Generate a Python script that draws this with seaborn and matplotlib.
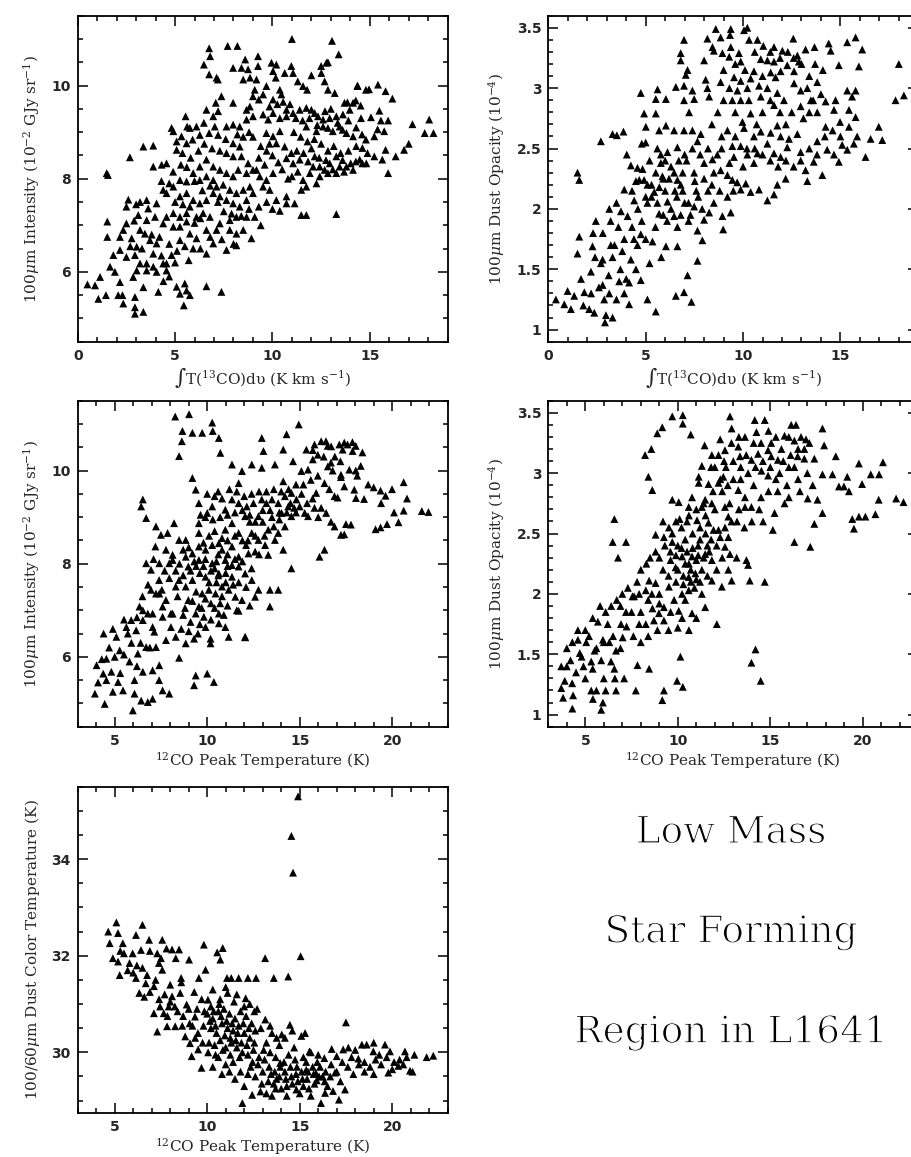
import numpy as np
import pandas as pd
import matplotlib
matplotlib.use("Agg")
import matplotlib.pyplot as plt
import matplotlib.patheffects as pe
from matplotlib.ticker import MultipleLocator, FuncFormatter
import seaborn as sns

# 13CO integrated intensity vs 100um intensity (10^-2 GJy/sr)
co13_vs_i100 = [
    (11.0,11.0),(13.06,10.96),(13.4,10.67),(12.77,10.49),(12.51,10.27),(12.85,10.5),(12.5,10.42),
    (6.75,10.8),(6.8,10.63),(6.48,10.45),(6.75,10.24),(7.13,10.17),(7.2,10.13),
    (7.7,10.85),(8.2,10.85),(7.98,10.38),(8.6,10.56),(8.41,10.38),(8.75,10.35),(8.5,10.13),(8.85,10.17),
    (9.26,10.63),(9.26,10.42),(9.18,10.13),(9.09,9.91),(9.95,10.49),(10.2,10.45),(10.03,10.31),(10.17,10.17),
    (10.63,10.27),(10.97,10.42),(11.06,10.27),(12.0,10.22),(11.3,10.09),(11.57,9.99),(11.78,9.91),
    (12.68,10.09),(12.85,9.91),(13.2,9.84),(14.38,9.99),(14.8,9.91),
    (9.69,9.99),(9.52,9.81),(10.38,9.91),(10.46,9.81),(10.03,9.7),(9.0,9.77),(9.3,9.7),(8.84,9.55),
    (7.38,9.77),(7.09,9.63),(6.61,9.48),(7.21,9.45),(7.98,9.63),(8.67,9.48),
    (5.54,9.34),(5.62,9.12),(5.76,9.09),(6.1,9.12),(4.82,9.09),(4.91,9.02),(6.48,9.2),(6.96,9.34),
    (7.64,9.12),(7.04,9.12),(6.75,8.98),(7.21,8.94),(6.27,8.94),(5.9,8.84),(5.33,8.91),(5.08,8.8),
    (5.59,8.76),(5.08,8.62),(5.38,8.55),
    (7.98,9.16),(8.32,9.12),(8.67,9.27),(9.0,9.34),(9.52,9.38),(9.78,9.27),(10.03,9.41),(10.38,9.3),
    (10.72,9.48),(10.72,9.34),(11.06,9.41),(11.4,9.48),(11.74,9.52),(12.0,9.48),(12.17,9.41),(12.34,9.34),
    (12.6,9.27),(12.94,9.3),(13.28,9.34),(13.62,9.38),(13.97,9.48),(14.14,9.63),(13.7,9.63),
    (11.74,9.12),(12.26,9.02),(12.6,9.12),(12.85,9.09),(13.1,9.02),(13.45,9.12),(13.8,8.98),(14.14,8.91),
    (14.8,8.84),(9.69,8.98),(10.03,8.91),(10.38,9.02),(10.2,8.76),(10.63,8.69),(10.97,8.55),(10.72,8.44),
    (11.06,8.33),(11.4,8.41),(11.83,8.37),(12.17,8.48),(12.09,8.26),(12.43,8.26),(12.68,8.19),(12.94,8.33),
    (13.28,8.48),(13.45,8.26),(13.8,8.26),(14.14,8.19),(14.48,8.41),(14.82,8.33),(12.85,8.12),(13.28,8.12),
    (12.43,8.05),(11.92,8.12),(11.57,7.97),(11.74,7.83),(12.26,7.9),(11.48,7.76),
    (10.03,8.12),(9.69,7.97),(9.35,8.05),(9.18,8.19),(9.52,7.83),(9.86,7.76),(10.2,7.54),(10.72,7.62),
    (10.72,7.47),(11.14,7.47),(11.48,7.22),(13.28,7.24),(10.38,7.31),
    (7.98,8.76),(8.32,8.69),(7.64,8.55),(7.98,8.48),(8.41,8.48),(8.75,8.33),(9.0,8.19),(8.67,8.12),
    (8.24,8.19),(7.98,8.05),(7.64,8.12),(7.3,8.19),(6.96,8.26),(6.61,8.41),(6.27,8.26),(5.93,8.12),
    (6.27,7.97),(6.61,8.05),(6.96,7.97),(7.13,7.83),(7.47,7.87),(7.81,7.76),(8.15,7.69),(8.5,7.76),
    (8.84,7.83),(9.0,7.69),(8.67,7.54),(8.32,7.4),(7.98,7.47),(7.64,7.54),(7.3,7.62),(6.96,7.69),
    (6.61,7.54),(6.27,7.47),(5.93,7.54),(5.59,7.69),(5.25,7.62),(4.91,7.83),(5.25,7.97),(5.59,7.94),
    (4.56,7.69),(4.31,8.3),(3.88,8.26),(4.56,8.33),(3.37,8.69),(3.88,8.71),(2.68,8.46),(1.49,8.12),
    (1.55,8.08),
    (5.76,7.4),(5.59,7.26),(5.25,7.18),(4.91,7.26),(4.56,7.18),(4.39,7.04),(4.91,6.97),(5.25,6.97),
    (5.59,7.08),(6.1,7.18),(6.44,7.26),(6.79,7.18),(6.61,6.9),(7.13,6.9),(7.3,7.04),(7.81,7.11),
    (8.15,7.18),(7.81,6.9),(8.15,6.82),(8.67,7.18),(9.09,7.18),(8.92,6.72),(8.15,6.57),(7.64,6.47),
    (6.96,6.61),(6.61,6.39),(6.1,6.72),(5.76,6.82),(5.93,6.5),(5.25,6.68),(4.82,6.36),(4.56,6.18),
    (4.39,7.76),(4.05,7.47),(3.54,7.54),(3.2,7.5),(3.62,7.36),(3.11,7.22),(3.54,7.11),(3.97,7.18),
    (2.5,7.4),(2.5,7.04),(2.34,6.9),(2.17,6.75),(1.52,6.75),(1.52,7.08),(2.77,6.72),(3.2,6.9),
    (3.45,6.82),(3.71,6.68),(4.05,6.61),(3.88,6.39),(3.03,6.54),(2.94,6.36),(3.2,6.18),(3.54,6.18),
    (3.88,6.11),(3.54,6.03),(4.05,6.0),(4.56,6.03),(3.03,6.03),(2.85,5.89),(2.5,6.32),(2.17,6.47),
    (1.83,6.36),(1.66,6.11),(1.91,6.0),(2.17,5.78),(2.08,5.5),(2.34,5.32),(2.94,5.46),(2.94,5.24),
    (2.94,5.1),(3.37,5.14),(3.37,5.67),(4.14,5.57),(1.15,5.89),(0.5,5.73),(0.89,5.71),(1.06,5.42),
    (1.45,5.5),(2.3,5.5),(5.08,5.68),(5.25,5.53),(5.5,5.75),(5.59,5.6),(5.76,5.5),(5.45,5.28),
    (6.61,5.69),(7.38,5.57),(4.39,6.18),
    (14.36,10.0),(14.96,9.92),(15.42,10.02),(15.81,9.88),(16.16,9.72),(14.28,9.68),(13.85,9.64),
    (14.53,9.57),(15.49,9.46),(15.06,9.32),(15.57,9.25),(15.94,9.25),(17.19,9.17),(18.05,9.27),
    (17.82,8.98),(18.27,8.98),(17.0,8.75),(16.76,8.62),(16.33,8.48),(15.81,8.62),(15.64,8.41),
    (15.94,8.12),(15.23,8.48),(14.88,8.55),(14.62,8.66),(14.62,8.33),(14.28,8.37),(14.02,8.33),
    (13.68,8.15),(15.23,8.91),(15.4,9.06),(15.74,9.02),(11.74,7.22),
    (9.85,9.55),(10.25,9.6),(10.55,9.65),(10.9,9.6),(11.2,9.3),(11.55,9.25),(11.9,9.3),(12.3,9.15),
    (12.7,9.45),(13.0,9.5),(13.35,9.2),(13.6,9.05),(13.9,9.25),(14.3,9.1),(14.55,9.3),(11.1,9.0),
    (11.45,8.9),(11.8,8.8),(12.15,8.85),(12.5,8.75),(12.85,8.6),(13.15,8.7),(13.5,8.55),(13.9,8.6),
    (14.3,8.7),(14.6,8.95),(11.25,8.6),(11.6,8.55),(12.0,8.65),(12.4,8.45),(12.75,8.4),(13.1,8.2),
    (13.6,8.4),(11.0,8.05),(11.3,8.15),(10.5,8.2),(10.8,8.0),(10.3,8.35),(10.0,8.5),(9.7,8.6),
    (9.4,8.7),(9.85,8.75),(9.3,8.45),(9.6,8.3),(9.0,8.9),(8.8,9.0),(8.5,8.9),(8.2,8.95),(7.6,8.85),
    (7.3,8.6),(6.9,8.65),(6.5,8.75),(6.2,8.6),(5.8,8.45),(5.6,8.25),(6.0,7.95),(6.4,7.75),(6.8,7.85),
    (7.2,7.5),(7.5,7.3),(7.9,7.25),(8.4,7.2),(8.8,7.35),(9.3,7.4),(9.7,7.5),(10.0,7.35),(6.3,7.15),
    (6.0,7.05),(5.4,7.45),(5.0,7.5),(4.7,7.9),(4.3,7.95),(4.9,8.15),(5.3,8.3),(8.0,6.6),(7.4,6.7),
    (6.8,6.75),(6.3,6.5),(5.5,6.55),(5.1,6.45),(4.7,6.6),(4.2,6.75),(4.3,6.35),(3.8,6.8),(3.3,6.5),
    (2.7,6.55),(2.9,7.1),(2.6,7.55),(3.0,7.45),(4.7,5.9),(4.4,5.8),(5.0,6.2),(5.7,6.25),(8.5,6.9),(9.4,7.0),
]

# 13CO integrated intensity vs 100um dust opacity (10^-4)
co13_vs_tau = [
    (8.6,3.49),(9.37,3.49),(9.33,3.44),(10.05,3.48),(10.22,3.5),(8.17,3.41),(8.85,3.42),(6.97,3.4),
    (8.43,3.34),(8.5,3.31),(8.94,3.29),(9.37,3.34),(9.29,3.26),(9.79,3.29),(9.88,3.22),(10.31,3.4),
    (10.74,3.4),(11.04,3.35),(11.59,3.34),(12.02,3.31),(12.58,3.41),(12.79,3.27),(13.21,3.32),(13.67,3.34),
    (14.4,3.37),(14.5,3.31),(15.35,3.38),(15.78,3.42),(16.12,3.32),(18.0,3.2),(18.26,2.94),(17.83,2.9),
    (6.8,3.29),(6.8,3.23),(8.0,3.23),(7.15,3.15),(7.06,3.11),(8.08,3.07),(8.17,3.0),(8.85,3.05),
    (8.26,2.93),(6.97,3.02),(6.55,3.01),(7.4,2.98),(7.49,2.91),(6.97,2.9),(7.23,2.8),(6.46,2.65),
    (6.97,2.65),(7.4,2.65),(7.83,2.62),(7.66,2.56),
    (4.75,2.96),(5.61,2.99),(5.52,2.91),(6.04,2.91),(4.92,2.79),(5.52,2.79),(5.01,2.68),(5.69,2.65),
    (6.04,2.69),(3.3,2.62),(3.52,2.61),(3.86,2.64),(2.7,2.56),(4.03,2.45),(4.8,2.54),(4.24,2.36),
    (4.58,2.34),(4.84,2.33),(4.92,2.24),(4.5,2.23),(5.78,2.45),(6.12,2.47),(6.63,2.51),(5.78,2.38),
    (5.52,2.3),(5.86,2.27),(6.46,2.3),(6.63,2.24),(6.8,2.2),(7.49,2.3),(7.52,2.23),(8.0,2.38),
    (8.43,2.41),(8.68,2.45),(8.5,2.3),(8.85,2.32),(9.2,2.28),(9.45,2.24),(9.7,2.22),(10.14,2.21),
    (9.88,2.16),(10.39,2.14),(10.82,2.16),(11.25,2.07),(11.59,2.12),(11.76,2.2),(12.19,2.25),(13.21,2.32),
    (13.3,2.23),(14.07,2.28),(12.96,2.4),(13.63,2.39),
    (9.45,2.52),(9.53,2.43),(9.88,2.52),(10.22,2.45),(10.56,2.38),(10.74,2.46),(11.25,2.54),(11.59,2.46),
    (11.93,2.43),(12.27,2.51),(12.96,2.47),(13.81,2.56),(14.32,2.49),(14.67,2.45),(14.92,2.39),(15.09,2.53),
    (15.35,2.49),(15.69,2.54),(15.86,2.6),(16.29,2.43),(16.55,2.58),(17.15,2.57),(16.97,2.68),(15.44,2.68),
    (14.98,2.72),(15.44,2.82),(15.78,2.76),(14.67,2.82),(14.24,2.68),(13.81,2.8),(13.4,2.8),(12.96,2.85),
    (13.48,2.9),(14.24,2.89),(14.75,2.9),(15.35,2.98),(15.78,2.98),(15.6,2.93),(14.92,3.19),(15.95,3.18),
    (9.54,3.09),(9.88,3.06),(10.39,3.08),(10.22,3.0),(9.71,2.98),(9.45,2.9),(9.88,2.9),(10.39,2.79),
    (9.97,2.72),(10.91,2.64),(10.56,2.6),(10.05,2.67),(10.82,3.02),(11.25,3.0),(11.42,3.13),(11.67,3.09),
    (11.93,3.14),(12.27,3.19),(12.62,3.14),(12.87,3.22),(11.59,3.22),(11.25,3.23),(10.91,3.24),(10.56,3.14),
    (10.91,2.93),(11.76,2.96),(12.1,2.9),(12.96,2.98),(13.3,3.0),(13.81,3.05),(12.62,3.04),(11.59,2.86),
    (11.76,2.69),(11.42,2.63),(11.93,2.6),(12.36,2.58),(12.79,2.62),
    (1.5,2.3),(1.59,2.24),(1.59,1.77),(1.5,1.63),(2.44,1.9),(3.13,2.0),(3.73,1.98),(4.07,1.94),
    (3.9,2.16),(4.41,2.07),(4.67,2.24),(5.09,2.2),(5.44,2.14),(5.09,2.05),(5.69,1.96),(6.12,2.06),
    (6.46,1.94),(6.63,1.85),(7.49,2.02),(7.66,1.82),(8.0,1.91),(8.26,1.97),(8.94,1.94),(8.98,1.83),
    (9.37,1.97),(7.91,1.74),(7.15,1.45),(6.55,1.28),(6.97,1.31),(7.35,1.23),(7.66,1.57),(6.04,1.69),
    (6.63,1.69),(5.35,1.73),(4.75,1.79),(4.58,1.7),(4.24,1.58),(3.3,1.6),(3.21,1.7),(2.79,1.58),
    (2.27,1.69),(4.75,1.41),(4.15,1.39),(3.64,1.4),(3.13,1.3),(2.79,1.37),(2.87,1.25),(1.85,1.31),
    (1.33,1.28),(0.99,1.32),(0.39,1.25),(0.82,1.21),(1.16,1.17),(2.1,1.17),(2.36,1.14),(2.96,1.12),
    (2.91,1.06),(3.3,1.1),(4.15,1.21),(5.09,1.25),(5.52,1.15),(1.68,1.42),(2.19,1.48),
    (5.3,2.1),(5.6,2.05),(6.0,2.15),(6.3,2.0),(6.6,2.1),(6.9,2.15),(7.2,2.05),(7.7,2.1),(7.3,1.95),
    (6.1,1.9),(5.9,2.25),(6.9,2.3),(7.1,2.4),(8.2,2.15),(8.5,2.05),(7.9,2.0),(4.3,1.85),(4.8,1.9),
    (3.6,1.85),(3.4,1.7),(3.9,1.75),(2.7,1.55),(3.1,1.45),(2.4,1.6),(3.7,1.5),(4.0,1.42),
    (9.0,3.15),(9.6,3.2),(10.1,3.15),(10.6,3.3),(11.0,3.1),(11.4,3.3),(11.9,3.25),(12.3,3.3),(12.6,3.25),
    (13.0,3.2),(13.4,3.1),(13.7,3.2),(14.1,3.15),(14.0,2.95),(13.6,2.9),(13.1,2.75),(12.5,2.8),(12.2,2.7),
    (11.9,2.8),(11.4,2.9),(11.0,2.8),(10.7,2.7),(10.3,2.9),(9.6,2.8),(9.3,3.0),(9.0,2.9),(8.7,2.8),
    (8.4,2.7),(8.9,2.6),(9.2,2.65),(9.6,2.6),(10.2,2.5),(10.6,2.5),(11.0,2.45),(11.4,2.4),(11.8,2.35),
    (12.2,2.4),(12.6,2.35),(13.4,2.5),(13.8,2.45),(14.2,2.6),(14.6,2.65),(15.0,2.6),(10.0,2.35),(9.3,2.38),
    (8.9,2.5),(8.2,2.5),(7.8,2.45),(7.4,2.5),(7.0,2.45),(6.7,2.4),(6.3,2.35),(6.0,2.4),(5.6,2.5),(5.2,2.4),
    (5.0,2.55),(5.3,2.2),(5.7,2.18),(6.2,2.25),(6.5,2.15),(7.0,2.05),(7.6,2.15),(8.0,2.25),(8.4,2.2),
    (8.8,2.15),(9.2,2.1),(9.5,2.15),(5.0,2.1),(4.6,2.0),(4.3,2.15),(5.9,1.95),(6.8,1.95),(7.2,1.9),
    (5.5,1.85),(5.0,1.75),(4.4,1.75),(3.8,1.65),(3.5,2.05),(3.2,1.9),(2.8,1.8),(2.3,1.8),(2.6,1.35),
    (2.2,1.3),(1.8,1.2),(3.5,1.25),(3.9,1.3),(4.5,1.5),(5.2,1.55),(5.8,1.6),
]

# 12CO peak temperature vs 100um intensity (10^-2 GJy/sr)
co12_vs_i100 = [
    (8.27,11.16),(9.02,11.21),(8.66,10.85),(8.63,10.63),(8.48,10.31),(9.2,10.81),(9.73,10.81),(10.27,11.03),
    (10.3,10.85),(10.63,10.7),(10.71,10.38),(9.2,9.84),(9.38,9.59),(10.59,9.55),(11.34,10.13),(11.88,9.99),
    (12.41,10.13),(12.95,10.06),(11.7,9.73),(12.95,10.7),(13.04,10.42),(13.66,10.13),(14.29,10.78),(14.11,10.45),
    (14.64,10.2),(14.95,10.99),(14.11,9.77),(15.09,9.99),(15.45,10.02),(15.71,10.24),(15.36,10.45),(15.8,10.56),
    (16.16,10.63),(15.98,10.34),(16.52,10.09),(16.7,10.52),(17.14,10.56),(17.32,10.45),(17.59,10.56),(17.86,10.42),
    (17.68,10.02),(17.23,9.91),(17.41,9.66),(17.95,9.59),(18.04,9.41),(16.34,9.73),(16.88,9.45),(15.89,9.52),
    (16.16,9.2),(16.43,9.09),(16.88,8.8),(17.23,8.62),(17.77,8.84),(16.07,8.15),(15.45,9.02),
    (16.42,10.63),(15.71,10.44),(16.51,10.53),(17.41,10.6),(17.85,10.61),(18.03,10.53),(18.39,10.39),(18.03,10.0),
    (18.11,9.89),(19.0,9.64),(19.37,9.57),(19.99,9.6),(20.62,9.75),(19.64,9.46),(20.62,9.14),(20.34,8.89),
    (19.72,8.85),(19.37,8.78),(19.1,8.74),(21.6,9.13),(21.96,9.11),(17.5,8.85),(17.41,8.63),(16.34,8.3),
    (18.48,9.39),(17.05,9.42),(17.23,9.86),(16.78,10.0),(16.69,10.17),(15.98,9.89),(16.69,8.9),
    (9.55,9.3),(10.0,9.09),(10.27,9.23),(10.98,9.16),(11.34,9.38),(11.7,9.3),(12.14,9.23),(12.5,9.3),
    (12.95,9.38),(13.2,9.3),(13.5,9.38),(13.84,9.3),(14.2,9.45),(14.55,9.52),(14.82,9.38),(15.0,9.23),
    (15.27,9.09),(14.38,9.23),(14.02,9.09),(14.55,9.02),(14.2,8.8),(13.84,8.66),(13.66,8.51),(13.3,8.73),
    (12.77,9.02),(12.05,9.02),(11.34,8.87),(10.98,8.73),(11.7,8.66),(12.41,8.66),(12.77,8.51),(13.13,8.4),
    (14.11,8.3),(14.55,7.9),(13.3,8.19),(12.59,8.26),(12.23,8.22),(11.7,8.15),(11.34,8.37),(10.63,8.44),
    (10.27,8.4),(9.91,8.3),(9.55,8.37),(9.2,8.22),(8.84,8.15),(9.55,8.08),(10.27,8.01),(10.98,8.08),
    (11.34,7.97),(11.7,7.94),(12.05,7.79),(12.41,7.65),(12.77,7.44),(13.39,7.44),(13.84,7.44),(13.39,7.08),
    (12.59,7.29),(11.88,7.22),(11.52,7.29),(11.16,7.44),(10.8,7.51),(10.45,7.36),(10.09,7.44),(9.73,7.36),
    (9.55,7.08),(9.38,6.93),(9.82,6.86),(9.91,6.64),(10.63,6.72),(10.98,6.64),(12.05,6.43),(11.16,6.43),
    (10.63,6.93),(11.7,6.99),(11.34,7.72),(10.63,7.79),(9.91,7.72),(9.2,7.65),(8.98,7.94),(8.98,7.22),
    (8.84,7.51),(8.13,8.08),(7.95,8.01),(8.84,8.51),(9.55,8.66),(9.55,8.87),(9.64,9.05),
    (7.77,8.3),(7.23,8.8),(6.52,9.38),(6.43,9.23),(6.7,8.98),(7.5,8.62),(7.86,8.66),(8.21,8.87),
    (8.48,8.51),(7.41,8.01),(7.95,7.69),(8.48,7.65),(8.3,7.51),(7.55,7.44),(7.41,7.36),(7.77,7.22),
    (8.13,6.93),(8.04,6.64),(7.59,6.86),(8.3,6.43),(8.84,6.29),(9.29,6.39),(10.18,6.39),(10.18,6.29),
    (12.05,6.42),(8.48,5.98),(9.38,5.6),(9.29,5.39),(10.0,5.64),(10.36,5.46),
    (7.2,8.37),(6.7,8.01),(6.96,7.87),(6.96,7.44),(7.23,7.36),(6.34,7.08),(6.79,6.93),
    (3.93,5.21),(4.02,5.82),(4.38,5.64),(4.82,5.68),(4.55,5.5),(4.46,4.99),(4.55,5.96),(5.18,5.46),
    (5.09,6.43),(5.71,6.5),(6.16,6.57),(6.25,6.07),(6.52,5.68),(7.05,5.71),(7.41,5.82),(6.07,5.5),
    (6.07,5.21),(5.98,4.85),(6.43,5.06),(6.79,5.03),(7.05,5.1),(7.59,5.28),(7.95,5.21),(5.45,5.28),
    (6.7,6.21),(7.23,6.21),(7.05,6.64),(7.77,6.36),(6.52,6.79),(6.52,7.0),(7.05,6.93),(5.89,6.79),
    (5.63,6.64),(5.27,6.14),(7.59,7.08),(8.04,6.93),(7.14,6.54),(8.13,8.19),
    (9.9,8.1),(10.4,7.9),(10.6,8.2),(10.1,7.6),(10.5,7.6),(9.6,7.8),(9.4,7.4),(10.8,7.3),(11.0,7.8),
    (11.1,8.2),(10.2,7.15),(9.7,7.05),(10.9,6.9),(12.1,8.4),(12.6,8.6),(13.0,8.9),(13.5,9.0),(12.3,8.9),
    (11.9,8.5),(13.9,9.1),(14.5,9.3),(14.8,9.1),
    (9.8,8.45),(10.1,8.6),(10.4,8.7),(10.8,8.55),(11.1,8.5),(11.5,8.6),(10.5,8.05),(10.8,8.3),(11.1,7.95),
    (11.5,8.1),(11.9,8.05),(12.2,8.5),(12.4,7.9),(12.8,8.2),(13.1,8.6),(13.6,8.8),(13.9,8.95),(14.3,9.1),
    (14.7,9.2),(15.1,9.5),(15.4,9.3),(15.7,9.4),(15.2,9.7),(14.8,9.7),(14.4,9.6),(14.0,9.55),(13.6,9.6),
    (13.2,9.55),(12.8,9.55),(12.4,9.5),(12.0,9.45),(11.6,9.55),(11.2,9.6),(10.8,9.4),(10.4,9.45),(10.0,9.5),
    (9.9,9.0),(10.3,8.95),(10.7,9.0),(11.1,9.05),(11.5,9.1),(11.9,9.15),(12.3,9.05),(12.6,8.9),(13.0,9.15),
    (13.4,9.15),(9.3,8.05),(9.0,8.35),(8.7,8.3),(8.5,8.0),(8.3,7.85),(8.7,7.75),(9.1,7.85),(9.4,7.95),
    (9.8,7.95),(10.2,7.85),(10.6,7.75),(11.0,7.6),(11.4,7.55),(11.7,7.6),(12.1,7.5),(12.3,7.1),(11.6,7.0),
    (11.1,7.1),(10.4,7.05),(10.2,6.8),(9.6,6.7),(9.1,6.75),(8.7,6.9),(8.4,7.3),(8.8,7.05),(9.2,7.2),
    (9.9,7.25),(10.7,7.15),(9.0,6.55),(9.5,6.5),(8.6,6.6),(7.7,7.85),(7.4,7.65),(7.1,8.1),(6.8,7.55),
    (6.5,7.3),(6.2,6.85),(5.9,6.3),(5.5,6.05),(5.0,6.0),(4.7,6.2),(4.3,5.95),(4.1,5.45),(4.9,5.25),
    (5.3,5.65),(5.8,5.9),(6.4,6.3),(6.9,6.2),(5.5,6.8),(4.9,6.6),(4.4,6.5),(6.2,5.8),(7.4,5.5),
    (16.6,9.6),(17.2,10.2),(16.3,10.3),(15.6,9.8),(18.7,9.7),(19.4,9.3),(20.1,9.1),(20.8,9.4),(18.3,10.1),
    (16.9,10.3),(16.0,9.0),(15.8,9.2),
]

# 12CO peak temperature vs 100um dust opacity (10^-4)
co12_vs_tau = [
    (9.7,3.47),(10.27,3.48),(10.27,3.41),(9.16,3.38),(8.89,3.33),(10.7,3.32),(12.82,3.47),(12.91,3.37),
    (8.23,3.15),(8.57,3.2),(8.41,2.97),(8.62,2.86),(6.57,2.62),(6.48,2.43),(7.2,2.43),(6.77,2.3),
    (14.16,3.44),(14.7,3.44),(14.25,3.34),(13.63,3.3),(12.29,3.28),(11.45,3.23),(11.84,3.15),(12.55,3.19),
    (13.27,3.22),(13.36,3.14),(11.3,3.06),(11.13,2.97),(11.66,2.91),(12.2,2.92),(11.13,2.92),(12.46,2.97),
    (13.27,2.86),(13.63,2.8),(14.52,3.02),(14.88,2.98),(15.41,3.11),(15.05,3.14),(14.88,3.19),(15.05,3.25),
    (14.34,3.16),(13.98,3.11),(16.13,3.4),(16.39,3.4),(15.77,3.31),(16.3,3.27),(16.66,3.3),(16.93,3.28),
    (17.11,3.25),(17.82,3.37),(17.91,3.23),(16.84,3.2),(16.48,3.14),(16.84,3.12),(17.38,3.12),(17.82,2.99),
    (18.36,2.99),(18.54,3.14),(19.16,2.97),(19.79,3.08),(20.43,2.99),(20.88,2.99),(21.09,3.09),(19.96,2.91),
    (18.98,2.89),(18.71,2.89),(19.25,2.85),(17.29,2.9),(17.02,2.79),(17.55,2.78),(17.82,2.67),(17.38,2.58),
    (19.43,2.62),(19.79,2.64),(20.14,2.64),(20.68,2.66),(20.86,2.78),(21.8,2.79),(22.2,2.76),(19.52,2.54),
    (16.3,2.43),(17.16,2.39),(15.77,2.75),(15.23,2.67),(15.14,2.53),(14.61,2.6),(13.98,2.72),(13.63,2.72),
    (12.73,2.64),(12.55,2.55),(12.2,2.53),(12.55,2.72),(11.84,2.75),(11.48,2.78),(11.3,2.72),(10.77,2.8),
    (10.59,2.72),(10.05,2.76),(9.7,2.78),(11.04,2.61),(11.66,2.59),(11.93,2.53),(12.29,2.47),(12.73,2.47),
    (12.55,2.39),(12.82,2.33),(13.18,2.3),(13.71,2.28),(13.8,2.24),(13.89,2.11),(14.7,2.1),(12.73,2.2),
    (12.91,2.11),(11.84,2.28),(11.48,2.33),(10.77,2.31),(10.23,2.31),(9.7,2.43),(9.25,2.47),(8.8,2.49),
    (9.52,2.55),(9.61,2.28),(9.88,2.22),(10.59,2.14),(10.95,2.17),(11.84,2.11),(12.38,2.06),(11.3,2.0),
    (10.59,2.03),(10.23,2.0),(9.52,2.06),(8.8,2.09),(8.45,2.11),(8.27,2.03),(7.91,2.0),(7.55,1.98),
    (7.64,1.98),(8.63,1.88),(8.98,1.84),(9.25,1.89),(9.61,1.85),(10.05,1.86),(10.77,1.84),(11.48,1.89),
    (10.23,1.8),(9.25,1.78),(8.71,1.78),(8.27,1.75),(7.91,1.75),(7.23,1.73),(6.93,1.75),(6.21,1.75),
    (5.95,1.62),(7.02,1.64),(6.66,1.53),(5.68,1.77),(5.05,1.6),(4.7,1.51),(5.5,1.53),(5.32,1.44),
    (5.86,1.45),(6.39,1.44),(6.57,1.38),(3.89,1.28),(4.29,1.26),(4.34,1.16),(5.32,1.2),(5.41,1.13),
    (5.95,1.1),(6.66,1.2),(3.8,1.14),(4.3,1.05),(5.86,1.04),(7.73,1.2),(9.25,1.2),(9.96,1.28),
    (10.27,1.23),(9.16,1.12),(10.14,1.48),(7.82,1.41),(8.45,1.38),(12.11,1.75),(13.98,1.43),(14.2,1.54),
    (14.48,1.28),
    (10.0,2.4),(10.4,2.45),(10.8,2.5),(11.1,2.4),(10.6,2.25),(11.0,2.28),(11.3,2.2),(10.3,2.15),(10.9,2.05),
    (11.6,2.4),(10.5,2.6),(11.2,2.55),(9.9,2.6),(10.2,2.55),(11.5,2.65),(12.0,2.7),(12.4,2.85),(12.8,2.75),
    (13.2,2.6),(13.4,2.95),(12.0,3.05),(12.6,3.05),(13.0,3.1),(14.1,2.9),(14.5,2.8),(15.5,3.0),(16.0,3.05),
    (15.9,2.9),(16.5,2.95),(15.6,3.2),(16.0,3.3),(16.3,3.05),
    (4.5,1.35),(5.0,1.3),(4.8,1.48),(5.2,1.65),(6.0,1.3),(6.3,1.6),(6.6,1.3),(7.1,1.3),(6.1,1.2),(3.7,1.22),
    (4.0,1.4),(4.6,1.62),(5.6,1.2),(6.9,1.9),(7.2,1.85),(8.0,1.85),(8.4,1.95),(9.0,2.0),(7.5,1.85),(5.4,1.38),
    (9.6,2.35),(9.9,2.32),(10.2,2.38),(10.5,2.35),(10.8,2.38),(11.1,2.32),(11.4,2.3),(11.7,2.35),(10.0,2.2),
    (10.4,2.25),(10.7,2.2),(11.0,2.12),(11.2,2.45),(11.5,2.5),(11.8,2.45),(12.1,2.4),(12.4,2.3),(12.1,2.2),
    (11.6,2.15),(11.2,2.1),(10.7,2.1),(10.3,2.08),(9.9,2.1),(9.5,2.15),(9.2,2.2),(9.0,2.3),(9.3,2.4),
    (9.7,2.5),(10.1,2.62),(10.6,2.65),(11.0,2.7),(11.4,2.75),(11.9,2.85),(12.3,2.95),(12.7,2.9),(13.0,2.95),
    (13.4,3.05),(13.8,3.0),(14.2,3.05),(14.6,3.1),(15.0,3.05),(15.3,2.95),(15.7,3.1),(16.1,3.15),(16.5,3.2),
    (15.3,3.3),(14.9,3.35),(14.5,3.25),(14.1,3.25),(13.7,3.15),(13.3,3.3),(12.9,3.25),(12.5,3.1),(12.2,3.15),
    (11.8,3.05),(12.9,2.6),(13.3,2.7),(13.6,2.55),(14.0,2.6),(14.4,2.7),(14.9,2.85),(15.4,2.85),(16.0,2.8),
    (16.6,2.85),(17.0,3.0),(9.2,2.6),(8.8,2.35),(8.5,2.3),(8.3,2.25),(8.0,2.2),(7.8,2.1),(7.3,2.05),
    (7.0,2.0),(6.7,1.95),(6.4,1.9),(6.1,1.85),(5.8,1.9),(5.4,1.8),(5.0,1.7),(4.6,1.7),(4.3,1.6),(4.0,1.55),
    (3.7,1.4),(4.2,1.45),(4.9,1.4),(5.6,1.55),(6.0,1.6),(6.5,1.65),(6.9,1.55),(7.6,1.65),(8.0,1.6),
    (8.4,1.65),(8.9,1.7),(9.5,1.7),(10.0,1.72),(10.6,1.7),(11.0,1.8),(10.4,1.95),(9.8,1.95),(9.0,1.92),
    (8.6,2.0),
]

# 12CO peak temperature vs 100/60um dust color temperature (K)
co12_vs_tdust = [
    (14.91,35.3),(14.55,34.48),(14.64,33.72),(15.05,31.99),(14.38,31.57),(17.5,30.62),(13.13,31.95),(13.6,31.54),
    (12.64,31.54),(11.7,31.54),(11.3,31.54),(11.07,31.54),(12.2,31.54),(9.55,31.54),(9.91,31.71),(9.82,32.23),
    (10.54,32.07),(10.71,31.92),(10.84,32.16),(9.02,31.92),(8.48,32.13),(8.1,32.13),(7.57,32.33),(6.86,32.33),
    (6.5,32.64),(6.15,32.43),(6.42,32.12),(5.97,32.05),(5.8,31.85),(5.09,32.69),(4.65,32.5),(4.73,32.26),
    (5.18,32.47),(5.44,32.26),(5.18,31.88),(5.27,31.6),(6.15,31.54),(6.33,31.23),(6.68,31.43),(7.12,31.37),
    (7.21,31.5),(7.57,31.71),(7.39,31.85),(7.12,30.81),(7.3,30.43),(7.83,30.54),(8.27,30.54),(7.92,30.95),
    (7.65,30.81),(8.1,31.16),(8.54,31.23),(8.59,31.54),(8.89,30.99),(9.34,30.74),(8.81,30.33),(9.07,30.19),
    (9.16,29.92),(9.51,30.06),(9.69,29.68),(10.04,31.09),(11.1,31.23),(12.08,31.12),(13.14,30.68),(14.47,30.57),
    (15.09,30.34),(14.03,30.37),(13.94,29.78),(15.35,29.64),(15.88,29.57),(16.24,29.5),(15.53,30.02),(16.33,29.88),
    (17.0,29.92),(17.35,30.06),(18.36,30.16),(14.82,29.23),(12.88,29.19),(12.43,29.12),(11.9,28.95),(16.15,28.95),
    (17.12,29.02),
    (18.62,30.16),(19.61,30.16),(19.88,30.02),(20.69,30.02),(20.78,29.9),(20.96,29.62),(20.33,29.72),(19.79,29.58),
    (18.98,30.02),(18.17,29.87),(17.63,30.1),(16.91,29.58),(17.45,29.23),(16.37,29.16),(21.86,29.9),(22.22,29.93),
    (15.92,29.42),(16.73,30.07),(15.29,30.4),
    (5.5,32.05),(6.0,31.65),(6.5,31.75),(6.9,32.1),(7.3,32.05),(7.5,31.95),(7.8,32.15),(8.3,31.95),(8.6,31.45),
    (9.7,31.1),(10.2,30.95),
    (10.0,30.8),(10.3,30.7),(10.6,30.85),(10.9,30.9),(11.2,30.8),(11.5,30.7),(11.8,30.85),(12.1,30.75),(12.4,30.6),
    (10.2,30.5),(10.5,30.4),(10.8,30.6),(11.1,30.5),(11.4,30.45),(11.7,30.55),(12.0,30.4),(12.3,30.3),(12.6,30.45),
    (12.9,30.5),(13.2,30.2),(10.1,30.2),(10.4,30.15),(10.7,30.25),(11.0,30.1),(11.3,30.2),(11.6,30.1),(11.9,30.0),
    (12.2,29.95),(12.5,30.05),(12.8,29.9),(13.1,29.85),(13.4,30.0),(13.7,29.9),(10.6,29.9),(11.0,29.75),(11.4,29.8),
    (11.8,29.6),(12.2,29.55),(12.6,29.5),(13.0,29.6),(13.3,29.4),(13.6,29.35),(13.9,29.5),(14.2,29.6),(14.5,29.7),
    (14.8,29.55),(15.1,29.6),(15.4,29.45),(15.7,29.7),(14.3,29.3),(14.6,29.35),(14.9,29.4),(15.2,29.3),(15.5,29.25),
    (14.0,29.25),(13.7,29.25),(15.8,29.35),(16.1,29.7),(16.4,29.6),(16.7,29.75),(17.0,29.6),(17.3,29.8),(17.6,29.7),
    (17.9,29.55),(18.2,29.75),(18.5,29.8),(18.8,29.7),(19.1,29.85),(19.4,29.75),(19.7,29.9),(20.1,29.8),(20.4,29.85),
    (9.5,30.4),(9.8,30.55),(9.2,30.55),(8.7,30.75),(9.0,30.9),(8.4,30.85),(8.0,31.05),(7.7,31.2),(7.4,31.1),
    (6.9,31.25),(6.6,31.15),(10.3,31.3),(10.7,31.1),(11.6,31.2),(12.3,31.0),(12.7,30.9),(13.5,30.4),(13.9,30.15),
    (14.2,30.3),(14.7,30.1),(15.2,29.9),(15.6,30.0),(16.0,29.95),(14.4,29.95),(13.2,29.15),(15.0,29.15),(12.0,29.3),
    (11.5,29.45),(11.2,29.6),(10.8,29.55),(10.3,29.7),
    (10.15,30.65),(10.45,30.55),(10.75,30.75),(11.05,30.65),(11.35,30.6),(11.65,30.4),(11.95,30.6),(12.25,30.5),
    (12.55,30.2),(10.35,30.85),(10.65,31.0),(10.95,30.35),(11.25,30.3),(11.55,30.25),(11.85,30.2),(12.15,30.15),
    (12.45,29.8),(12.75,29.75),(13.05,30.05),(13.35,29.7),(13.65,29.6),(13.95,29.7),(14.25,29.45),(14.55,29.5),
    (14.85,29.7),(15.15,29.45),(15.45,29.6),(15.75,29.55),(16.05,29.5),(16.35,29.4),(16.65,29.5),(14.15,29.8),
    (14.75,29.85),(15.35,29.8),(15.95,29.8),(13.75,29.45),(13.45,29.55),(12.95,29.35),(12.35,29.7),(11.75,29.9),
    (11.25,29.95),(10.85,30.05),(10.45,29.95),(10.05,30.0),(9.75,30.2),(9.35,30.3),(9.05,30.6),(8.65,30.55),
    (8.25,30.95),(7.85,30.75),(7.45,30.95),(9.45,30.9),(9.85,30.85),(11.45,31.05),(12.0,30.95),(12.55,30.85),
    (11.0,31.35),(9.3,31.25),(8.0,31.4),(6.75,31.6),(6.2,31.8),(5.7,31.7),(5.3,32.1),(4.9,31.95),(13.4,30.55),
    (13.75,30.3),(14.6,30.45),(16.5,29.3),(17.2,29.4),(17.8,29.9),(18.5,29.6),(19.3,29.95),(20.0,29.65),
    (20.6,29.75),(21.1,29.6),(19.0,29.55),(16.8,29.2),(15.6,29.1),(14.3,29.1),(13.5,29.1),(18.0,30.05),
    (19.0,30.2),(21.2,29.95),
]

x_label_13co = "∫T($^{13}$CO)dυ (K km s$^{-1}$)"
x_label_12co = "$^{12}$CO Peak Temperature (K)"
y_label_i100 = "100$\\mu$m Intensity (10$^{-2}$ GJy sr$^{-1}$)"
y_label_tau = "100$\\mu$m Dust Opacity (10$^{-4}$)"
y_label_tdust = "100/60$\\mu$m Dust Color Temperature (K)"
caption_lines = ["Low Mass", "Star Forming", "Region in L1641"]

sns.set_style("ticks")
plt.rcParams["font.family"] = ["DejaVu Serif", "DejaVu Sans"]
plt.rcParams["mathtext.fontset"] = "dejavuserif"

fig = plt.figure(figsize=(9.11, 11.57), dpi=100)
W, H = 911.0, 1157.0

def make_axes(left_px, top_px, w_px=370.0, h_px=326.0):
    return fig.add_axes([left_px / W, 1 - (top_px + h_px) / H, w_px / W, h_px / H])

def style(ax, xlim, ylim, xmaj, xmin, ymaj, ymin, xlabel, ylabel):
    ax.set_xlim(*xlim)
    ax.set_ylim(*ylim)
    ax.xaxis.set_major_locator(MultipleLocator(xmaj))
    ax.xaxis.set_minor_locator(MultipleLocator(xmin))
    ax.yaxis.set_major_locator(MultipleLocator(ymaj))
    ax.yaxis.set_minor_locator(MultipleLocator(ymin))
    fmt = FuncFormatter(lambda v, p: f"{v:g}")
    ax.xaxis.set_major_formatter(fmt)
    ax.yaxis.set_major_formatter(fmt)
    ax.tick_params(which="both", direction="in", top=True, right=True, color="black", width=1.1)
    ax.tick_params(which="major", length=7, pad=5, labelsize=10)
    ax.tick_params(which="minor", length=3.5)
    for lbl in ax.get_xticklabels() + ax.get_yticklabels():
        lbl.set_family("DejaVu Sans")
        lbl.set_fontweight("bold")
    for s in ax.spines.values():
        s.set_linewidth(1.3)
        s.set_color("black")
    ax.set_xlabel(xlabel, fontsize=11, labelpad=2)
    ax.set_ylabel(ylabel, fontsize=11, labelpad=7)

def scatter(ax, pts):
    df = pd.DataFrame(pts, columns=["x", "y"])
    sns.scatterplot(data=df, x="x", y="y", ax=ax, marker="^", s=32,
                    color="black", edgecolor="none", linewidth=0, legend=False)

ax_a = make_axes(77.7, 15.7)
scatter(ax_a, co13_vs_i100)
style(ax_a, (0, 19), (4.5, 11.5), 5, 1, 2, 0.5, x_label_13co, y_label_i100)

ax_b = make_axes(548.3, 15.7)
scatter(ax_b, co13_vs_tau)
style(ax_b, (0, 19), (0.9, 3.6), 5, 1, 0.5, 0.1, x_label_13co, y_label_tau)

ax_c = make_axes(77.7, 400.7)
scatter(ax_c, co12_vs_i100)
style(ax_c, (3, 23), (4.5, 11.5), 5, 1, 2, 0.5, x_label_12co, y_label_i100)

ax_d = make_axes(548.3, 400.7)
scatter(ax_d, co12_vs_tau)
style(ax_d, (3, 23), (0.9, 3.6), 5, 1, 0.5, 0.1, x_label_12co, y_label_tau)

ax_e = make_axes(77.7, 786.7)
scatter(ax_e, co12_vs_tdust)
style(ax_e, (3, 23), (28.75, 35.5), 5, 1, 2, 0.5, x_label_12co, y_label_tdust)

thin = [pe.Stroke(linewidth=0.9, foreground="white")]
for line, ypx in zip(caption_lines, [833, 933, 1033]):
    fig.text(731 / W, 1 - ypx / H, line, ha="center", va="center",
             fontsize=27, family="DejaVu Serif", color="black", path_effects=thin)

fig.savefig("out.png", dpi=100)
